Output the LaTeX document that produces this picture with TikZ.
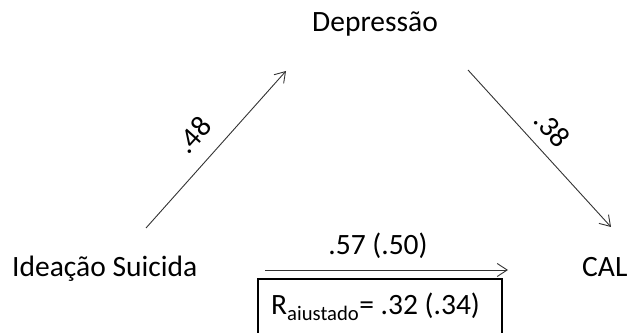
\documentclass[tikz,border=0pt]{standalone}
\usepackage{fontspec}
\setmainfont{Carlito}
\usetikzlibrary{arrows.meta}
\begin{document}
\begin{tikzpicture}[x=1pt,y=1pt,
  lbl/.style={inner sep=0pt,font=\fontsize{29.5}{34}\selectfont},
  conn/.style={line width=0.9pt,draw=black!80,-{Straight Barb[length=10pt,width=13pt,line width=0.9pt]}},
  rbox/.style={draw=black,line width=1.3pt}]
\useasboundingbox (0,0) rectangle (629,332);
\node[lbl,anchor=base west] (is) at (12,55) {Ideação Suicida};
\node[lbl,anchor=base west] (cal) at (582,55) {CAL};
\node[lbl,anchor=base west] (dep) at (312,300) {Depressão};
\coordinate (a1s) at (146,104);
\coordinate (a1e) at (286,261);
\coordinate (a2s) at (468,262);
\coordinate (a2e) at (611,105);
\coordinate (a3s) at (265,62);
\coordinate (a3e) at (508,62);
\draw[conn] (a1s) -- (a1e);
\draw[conn] (a2s) -- (a2e);
\draw[conn] (a3s) -- (a3e);
\node[lbl,rotate=48] (l48) at (194,197) {.48};
\node[lbl,rotate=-48] (l38) at (552,203) {.38};
\node[lbl,anchor=base] (l57) at (378,77) {.57 (.50)};
\draw[rbox] (258,53) rectangle (502,-10);
\node[lbl,anchor=base west] (r) at (271,17) {R\textsubscript{aiustado}= .32 (.34)};
\end{tikzpicture}
\end{document}
